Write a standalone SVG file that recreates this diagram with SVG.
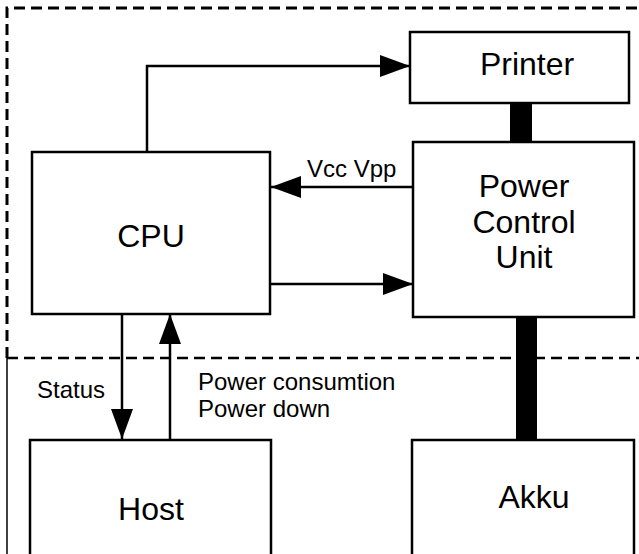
<svg xmlns="http://www.w3.org/2000/svg" width="639" height="554" viewBox="0 0 639 554">
<style>
.box{fill:#fff;stroke:#000;stroke-width:2.5}
.big{font-family:"Liberation Sans",Arial,sans-serif;font-size:32px;fill:#000;text-anchor:middle}
.small{font-family:"Liberation Sans",Arial,sans-serif;font-size:24px;fill:#000}
.line{fill:none;stroke:#000;stroke-width:2.5}
.dash{fill:none;stroke:#000;stroke-width:3;stroke-dasharray:11 6}
</style>
<defs>
<marker id="arr" viewBox="0 0 30 22" refX="30" refY="11" markerWidth="30" markerHeight="22" markerUnits="userSpaceOnUse" orient="auto">
<path d="M0,0 L30,11 L0,22 Z" fill="#000"/>
</marker>
</defs>
<rect width="639" height="554" fill="#fff"/>
<g id="frame">
<path class="dash" d="M7,358 L7,8 L639,8"/>
<path class="dash" d="M7,358 L639,358" style="stroke-width:2.5"/>
<path class="line" d="M7,358 L7,554" style="stroke-width:1.5"/>
</g>
<g id="connectors">
<path class="line" d="M147,152 L147,66 L410,66" marker-end="url(#arr)"/>
<path class="line" d="M413,187 L271,187" marker-end="url(#arr)"/>
<path class="line" d="M271,284 L413,284" marker-end="url(#arr)"/>
<path class="line" d="M122,314 L122,439" marker-end="url(#arr)"/>
<path class="line" d="M170,440 L170,314" marker-end="url(#arr)"/>
<rect x="510" y="103" width="22" height="39" fill="#000"/>
<rect x="516" y="317" width="21" height="123" fill="#000"/>
<text class="small" x="307" y="177">Vcc Vpp</text>
<text class="small" x="37" y="398">Status</text>
<text class="small" x="198" y="390">Power consumtion</text>
<text class="small" x="198" y="417">Power down</text>
</g>
<g id="printer">
<rect class="box" x="410" y="32" width="219" height="71"/>
<text class="big" x="527" y="75">Printer</text>
</g>
<g id="cpu">
<rect class="box" x="32" y="152" width="238" height="162"/>
<text class="big" x="151" y="247">CPU</text>
</g>
<g id="pcu">
<rect class="box" x="413" y="142" width="221" height="175"/>
<text class="big" x="524" y="197">Power</text>
<text class="big" x="524" y="233">Control</text>
<text class="big" x="524" y="268">Unit</text>
</g>
<g id="host">
<rect class="box" x="30" y="440" width="241" height="130"/>
<text class="big" x="151" y="520">Host</text>
</g>
<g id="akku">
<rect class="box" x="412" y="440" width="222" height="130"/>
<text class="big" x="534" y="508">Akku</text>
</g>
</svg>
